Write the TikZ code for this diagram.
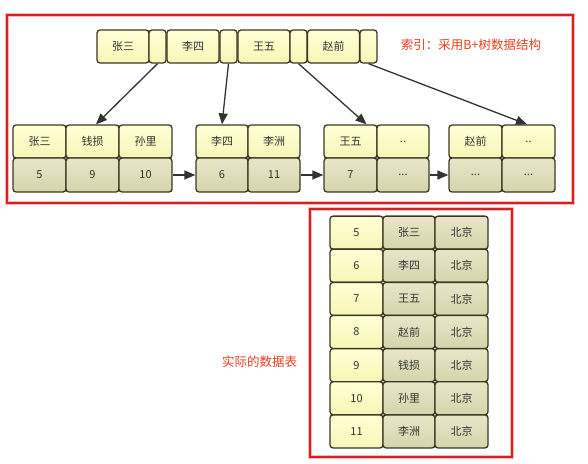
\documentclass[tikz,border=0pt]{standalone}
\usepackage{fontspec}
\newfontfamily\cjk{Noto Sans CJK SC}
\usetikzlibrary{arrows.meta}
\definecolor{bord}{HTML}{3A3820}
\definecolor{ytop}{HTML}{FFFFD6}
\definecolor{ybot}{HTML}{F7F6B6}
\definecolor{gtop}{HTML}{E8E6C8}
\definecolor{gbot}{HTML}{D6D4AC}
\definecolor{frame}{HTML}{DD1E1E}
\definecolor{lbl}{HTML}{E8401C}
\definecolor{txt}{HTML}{333333}
\tikzset{
  cellbase/.style={draw=bord, line width=1.3pt, rounded corners=3pt, inner sep=0pt,
    text=txt, font=\cjk\fontsize{11}{13}\selectfont, minimum height=33pt},
  ycell/.style={cellbase, top color=ytop, bottom color=ybot, minimum width=52pt},
  gcell/.style={cellbase, top color=gtop, bottom color=gbot, minimum width=52pt},
  scell/.style={cellbase, top color=ytop, bottom color=ybot, minimum width=17pt},
  arr/.style={draw=txt, line width=1.3pt, -{Triangle[length=11pt,width=9pt]}},
  redframe/.style={draw=frame, line width=2.2pt},
  halo/.style={draw=frame!30, line width=4.5pt},
  lab/.style={text=lbl, font=\cjk\fontsize{12.5}{14}\selectfont, inner sep=0pt}
}
\begin{document}
\begin{tikzpicture}[x=1pt,y=-1pt]
\useasboundingbox (0,0) rectangle (588,463);
% frames
\draw[halo] (7,15) rectangle (573,203);
\draw[redframe] (7,15) rectangle (573,203);
\draw[halo] (310,209) rectangle (512,457);
\draw[redframe] (310,209) rectangle (512,457);
% root
\node[ycell] (r1) at (123,46.5) {张三};
\node[scell] (r1s) at (157.5,46.5) {};
\node[ycell] (r2) at (193,46.5) {李四};
\node[scell] (r2s) at (228.5,46.5) {};
\node[ycell] (r3) at (264,46.5) {王五};
\node[scell] (r3s) at (298.5,46.5) {};
\node[ycell] (r4) at (333.5,46.5) {赵前};
\node[scell] (r4s) at (368.5,46.5) {};
\node[lab] (idx) at (471,45) {索引：采用B+树数据结构};
% leaves
\node[ycell,minimum width=53pt] (l1a) at (39.5,141.5) {张三};
\node[ycell,minimum width=53pt] (l1b) at (92.5,141.5) {钱损};
\node[ycell,minimum width=53pt] (l1c) at (145.5,141.5) {孙里};
\node[gcell,minimum width=53pt,minimum height=34pt] (l1a2) at (39.5,175) {5};
\node[gcell,minimum width=53pt,minimum height=34pt] (l1b2) at (92.5,175) {9};
\node[gcell,minimum width=53pt,minimum height=34pt] (l1c2) at (145.5,175) {10};
\node[ycell] (l2a) at (222,141.5) {李四};
\node[ycell] (l2b) at (274,141.5) {李洲};
\node[gcell,minimum height=34pt] (l2a2) at (222,175) {6};
\node[gcell,minimum height=34pt] (l2b2) at (274,175) {11};
\node[ycell,minimum width=53pt] (l3a) at (350.5,141.5) {王五};
\node[ycell] (l3b) at (403,141.5) {..};
\node[gcell,minimum width=53pt,minimum height=34pt] (l3a2) at (350.5,175) {7};
\node[gcell,minimum height=34pt] (l3b2) at (403,175) {...};
\node[ycell,minimum width=53pt] (l4a) at (475.5,141.5) {赵前};
\node[ycell,minimum width=53pt] (l4b) at (528.5,141.5) {..};
\node[gcell,minimum width=53pt,minimum height=34pt] (l4a2) at (475.5,175) {...};
\node[gcell,minimum width=53pt,minimum height=34pt] (l4b2) at (528.5,175) {...};
% arrows
\draw[arr] (r1s.south) -- ([xshift=3.5pt]l1b.north);
\draw[arr] (r2s.south) -- (l2a.north);
\draw[arr] (r3s.south) -- ([xshift=16pt]l3a.north);
\draw[arr] (r4s.south) -- ([xshift=-1.5pt]l4b.north);
\draw[arr] (l1c2.east) -- (l2a2.west);
\draw[arr] (l2b2.east) -- (l3a2.west);
\draw[arr] (l3b2.east) -- (l4a2.west);
% table
\foreach \n/\num/\name [count=\i from 0] in {t1/5/张三, t2/6/李四, t3/7/王五, t4/8/赵前, t5/9/钱损, t6/10/孙里, t7/11/李洲}{
  \node[ycell,minimum width=53pt] (\n a) at (356.5,232.6+33.14*\i) {\num};
  \node[gcell] (\n b) at (409,232.6+33.14*\i) {\name};
  \node[gcell,minimum width=53pt] (\n c) at (461.5,232.6+33.14*\i) {北京};
}
\node[lab] (real) at (259.5,362) {实际的数据表};
\end{tikzpicture}
\end{document}
